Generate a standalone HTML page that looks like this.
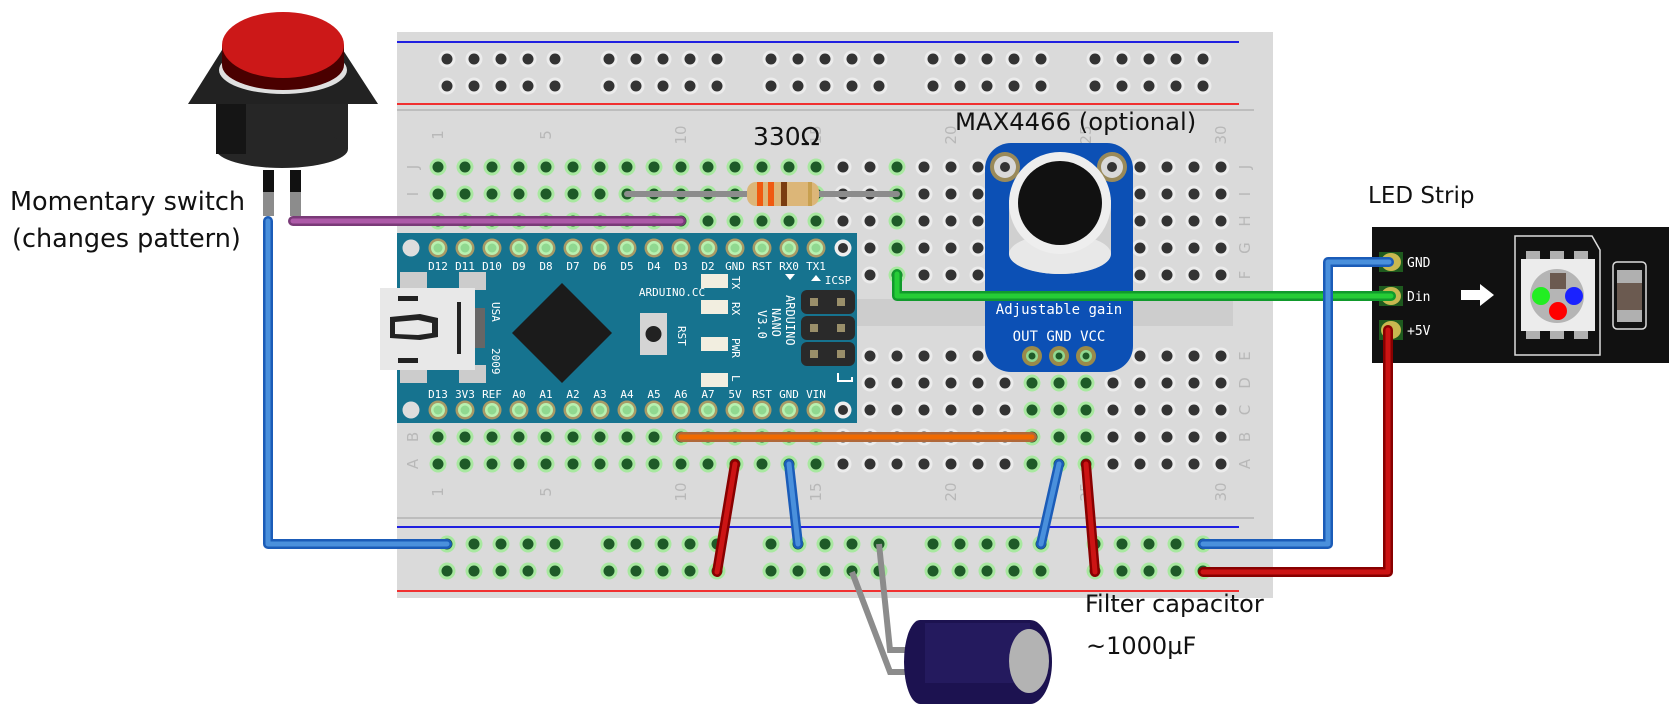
<!DOCTYPE html>
<html><head><meta charset="utf-8"><style>
html,body{margin:0;padding:0;background:#fff;width:1669px;height:713px;overflow:hidden}
svg{display:block}
.lbl{font-family:"DejaVu Sans","Liberation Sans",sans-serif;fill:#111}
.mono{font-family:"DejaVu Sans Mono","Liberation Mono",monospace;fill:#fff;font-size:11px}
.bbl{font-family:"DejaVu Sans","Liberation Sans",sans-serif;fill:#b8b8b8;font-size:15px}
</style></head><body>
<svg width="1669" height="713" viewBox="0 0 1669 713" xmlns="http://www.w3.org/2000/svg">
<defs>
<pattern id="g" x="424.5" y="153.5" width="27" height="27" patternUnits="userSpaceOnUse">
<circle cx="13.5" cy="13.5" r="8.5" fill="#a8e8a0"/><circle cx="13.5" cy="13.5" r="5.5" fill="#1e5a28"/></pattern>
<pattern id="k" x="424.5" y="153.5" width="27" height="27" patternUnits="userSpaceOnUse">
<circle cx="13.5" cy="13.5" r="8.5" fill="#ececec"/><circle cx="13.5" cy="13.5" r="5.5" fill="#333"/></pattern>
<pattern id="g2" x="424.5" y="342.5" width="27" height="27" patternUnits="userSpaceOnUse">
<circle cx="13.5" cy="13.5" r="8.5" fill="#a8e8a0"/><circle cx="13.5" cy="13.5" r="5.5" fill="#1e5a28"/></pattern>
<pattern id="k2" x="424.5" y="342.5" width="27" height="27" patternUnits="userSpaceOnUse">
<circle cx="13.5" cy="13.5" r="8.5" fill="#ececec"/><circle cx="13.5" cy="13.5" r="5.5" fill="#333"/></pattern>
<pattern id="rk" x="433.5" y="45.5" width="27" height="27" patternUnits="userSpaceOnUse">
<circle cx="13.5" cy="13.5" r="8.5" fill="#ececec"/><circle cx="13.5" cy="13.5" r="5.5" fill="#333"/></pattern>
<pattern id="rg" x="433.5" y="530.5" width="27" height="27" patternUnits="userSpaceOnUse">
<circle cx="13.5" cy="13.5" r="8.5" fill="#a8e8a0"/><circle cx="13.5" cy="13.5" r="5.5" fill="#1e5a28"/></pattern>
<pattern id="ap" x="424.5" y="234.5" width="27" height="27" patternUnits="userSpaceOnUse">
<circle cx="13.5" cy="13.5" r="9.5" fill="#a89a66"/><circle cx="13.5" cy="13.5" r="7" fill="#b8f0b0"/><circle cx="13.5" cy="13.5" r="4.5" fill="#90d890"/></pattern>
<pattern id="ap2" x="424.5" y="396.5" width="27" height="27" patternUnits="userSpaceOnUse">
<circle cx="13.5" cy="13.5" r="9.5" fill="#a89a66"/><circle cx="13.5" cy="13.5" r="7" fill="#b8f0b0"/><circle cx="13.5" cy="13.5" r="4.5" fill="#90d890"/></pattern>
</defs>

<rect x="397" y="32" width="876" height="566" fill="#dadada"/>
<line x1="397" y1="42" x2="1239" y2="42" stroke="#2020e0" stroke-width="2"/>
<line x1="397" y1="104" x2="1239" y2="104" stroke="#f03030" stroke-width="2"/>
<line x1="397" y1="110" x2="1254" y2="110" stroke="#bdbdbd" stroke-width="2"/>
<line x1="397" y1="518" x2="1254" y2="518" stroke="#bdbdbd" stroke-width="2"/>
<line x1="397" y1="527" x2="1239" y2="527" stroke="#2020e0" stroke-width="2"/>
<line x1="397" y1="591" x2="1239" y2="591" stroke="#f03030" stroke-width="2"/>
<rect x="397" y="299" width="836" height="27" fill="#cdcdcd"/>

<g fill="url(#rk)">
<rect x="433.5" y="45.5" width="135" height="54"/><rect x="595.5" y="45.5" width="135" height="54"/>
<rect x="757.5" y="45.5" width="135" height="54"/><rect x="919.5" y="45.5" width="135" height="54"/>
<rect x="1081.5" y="45.5" width="135" height="54"/></g>
<g fill="url(#rg)">
<rect x="433.5" y="530.5" width="135" height="54"/><rect x="595.5" y="530.5" width="135" height="54"/>
<rect x="757.5" y="530.5" width="135" height="54"/><rect x="919.5" y="530.5" width="135" height="54"/>
<rect x="1081.5" y="530.5" width="135" height="54"/></g>

<rect x="424.5" y="153.5" width="405" height="135" fill="url(#g)"/>
<rect x="829.5" y="153.5" width="405" height="135" fill="url(#k)"/>
<rect x="883.5" y="153.5" width="27" height="135" fill="url(#g)"/>
<rect x="424.5" y="342.5" width="405" height="135" fill="url(#g2)"/>
<rect x="829.5" y="342.5" width="405" height="135" fill="url(#k2)"/>
<rect x="1018.5" y="342.5" width="81" height="135" fill="url(#g2)"/>

<g class="bbl" text-anchor="middle">
<text x="413" y="172" transform="rotate(-90 413 167)">J</text>
<text x="413" y="199" transform="rotate(-90 413 194)">I</text>
<text x="413" y="226" transform="rotate(-90 413 221)">H</text>
<text x="1245" y="172" transform="rotate(-90 1245 167)">J</text>
<text x="1245" y="199" transform="rotate(-90 1245 194)">I</text>
<text x="1245" y="226" transform="rotate(-90 1245 221)">H</text>
<text x="1245" y="253" transform="rotate(-90 1245 248)">G</text>
<text x="1245" y="280" transform="rotate(-90 1245 275)">F</text>
<text x="1245" y="361" transform="rotate(-90 1245 356)">E</text>
<text x="1245" y="388" transform="rotate(-90 1245 383)">D</text>
<text x="1245" y="415" transform="rotate(-90 1245 410)">C</text>
<text x="1245" y="442" transform="rotate(-90 1245 437)">B</text>
<text x="1245" y="469" transform="rotate(-90 1245 464)">A</text>
<text x="413" y="442" transform="rotate(-90 413 437)">B</text>
<text x="413" y="469" transform="rotate(-90 413 464)">A</text>
<text x="438" y="140" transform="rotate(-90 438 135)">1</text>
<text x="546" y="140" transform="rotate(-90 546 135)">5</text>
<text x="681" y="140" transform="rotate(-90 681 135)">10</text>
<text x="816" y="140" transform="rotate(-90 816 135)">15</text>
<text x="951" y="140" transform="rotate(-90 951 135)">20</text>
<text x="1086" y="140" transform="rotate(-90 1086 135)">25</text>
<text x="1221" y="140" transform="rotate(-90 1221 135)">30</text>
<text x="438" y="497" transform="rotate(-90 438 492)">1</text>
<text x="546" y="497" transform="rotate(-90 546 492)">5</text>
<text x="681" y="497" transform="rotate(-90 681 492)">10</text>
<text x="816" y="497" transform="rotate(-90 816 492)">15</text>
<text x="951" y="497" transform="rotate(-90 951 492)">20</text>
<text x="1086" y="497" transform="rotate(-90 1086 492)">25</text>
<text x="1221" y="497" transform="rotate(-90 1221 492)">30</text>
</g>

<rect x="397" y="233" width="460" height="190" fill="#16738f"/>
<rect x="424.5" y="234.5" width="405" height="27" fill="url(#ap)"/>
<rect x="424.5" y="396.5" width="405" height="27" fill="url(#ap2)"/>
<circle cx="843" cy="248" r="8.5" fill="#eee"/><circle cx="843" cy="248" r="5" fill="#333"/>
<circle cx="843" cy="410" r="8.5" fill="#eee"/><circle cx="843" cy="410" r="5" fill="#333"/>
<circle cx="411" cy="248" r="8.5" fill="#ddd"/><circle cx="411" cy="410" r="8.5" fill="#ddd"/>
<g class="mono" text-anchor="middle">
<text x="438" y="270">D12</text><text x="465" y="270">D11</text><text x="492" y="270">D10</text><text x="519" y="270">D9</text>
<text x="546" y="270">D8</text><text x="573" y="270">D7</text><text x="600" y="270">D6</text><text x="627" y="270">D5</text>
<text x="654" y="270">D4</text><text x="681" y="270">D3</text><text x="708" y="270">D2</text><text x="735" y="270">GND</text>
<text x="762" y="270">RST</text><text x="789" y="270">RX0</text><text x="816" y="270">TX1</text>
<text x="438" y="398">D13</text><text x="465" y="398">3V3</text><text x="492" y="398">REF</text><text x="519" y="398">A0</text>
<text x="546" y="398">A1</text><text x="573" y="398">A2</text><text x="600" y="398">A3</text><text x="627" y="398">A4</text>
<text x="654" y="398">A5</text><text x="681" y="398">A6</text><text x="708" y="398">A7</text><text x="735" y="398">5V</text>
<text x="762" y="398">RST</text><text x="789" y="398">GND</text><text x="816" y="398">VIN</text>
<text x="672" y="296">ARDUINO.CC</text>
<text x="838" y="284">ICSP</text>
</g>
<rect x="400" y="272" width="27" height="18" fill="#ccc"/><rect x="459" y="272" width="27" height="18" fill="#ccc"/>
<rect x="400" y="365" width="27" height="18" fill="#ccc"/><rect x="459" y="365" width="27" height="18" fill="#ccc"/>
<rect x="380" y="288" width="95" height="82" fill="#e8e8e8"/>
<rect x="398" y="296" width="20" height="5" fill="#222"/><rect x="398" y="358" width="20" height="5" fill="#222"/>
<path d="M390 317 L420 314 L438 318 L438 337 L420 340 L390 338 Z" fill="#222"/>
<path d="M395 322 L418 320 L432 323 L432 333 L418 335 L395 334 Z" fill="#e8e8e8"/>
<rect x="457" y="302" width="4" height="52" fill="#222"/>
<rect x="475" y="308" width="10" height="40" fill="#666"/>
<text class="mono" x="492" y="302" transform="rotate(90 492 302)" font-size="13">USA</text>
<text class="mono" x="492" y="348" transform="rotate(90 492 348)" font-size="13">2009</text>
<polygon points="562,283 612,333 562,383 512,333" fill="#1b1b1b"/>
<rect x="640" y="313" width="27" height="42" fill="#d4d4d4"/><circle cx="653.5" cy="334" r="8" fill="#222"/>
<text class="mono" x="678" y="326" transform="rotate(90 678 326)">RST</text>
<g fill="#f2eee0"><rect x="701" y="274" width="27" height="14"/><rect x="701" y="300" width="27" height="14"/>
<rect x="701" y="337" width="27" height="14"/><rect x="701" y="373" width="27" height="14"/></g>
<g class="mono"><text x="732" y="276" transform="rotate(90 732 276)">TX</text><text x="732" y="302" transform="rotate(90 732 302)">RX</text>
<text x="732" y="338" transform="rotate(90 732 338)">PWR</text><text x="732" y="375" transform="rotate(90 732 375)">L</text>
<text x="786" y="295" transform="rotate(90 786 295)" font-size="12">ARDUINO</text>
<text x="772" y="308" transform="rotate(90 772 308)" font-size="12">NANO</text>
<text x="758" y="310" transform="rotate(90 758 310)" font-size="12">V3.0</text></g>
<polygon points="785,274 795,274 790,280" fill="#fff"/><polygon points="811,281 821,281 816,275" fill="#fff"/>
<g fill="#2a2a2a"><rect x="801" y="290" width="54" height="24" rx="6"/><rect x="801" y="316" width="54" height="24" rx="6"/><rect x="801" y="342" width="54" height="24" rx="6"/></g>
<g fill="#9a8f6a"><rect x="810" y="298" width="8" height="8"/><rect x="837" y="298" width="8" height="8"/><rect x="810" y="324" width="8" height="8"/><rect x="837" y="324" width="8" height="8"/><rect x="810" y="350" width="8" height="8"/><rect x="837" y="350" width="8" height="8"/></g>
<path d="M838 373 V381 H852 V377" stroke="#fff" stroke-width="2" fill="none"/>

<line x1="627" y1="194" x2="897" y2="194" stroke="#8c8c8c" stroke-width="6" stroke-linecap="round"/>
<rect x="747" y="182" width="72" height="24" rx="9" fill="#dcb678"/>
<rect x="757" y="182" width="6" height="24" fill="#f05a10"/><rect x="768" y="182" width="6" height="24" fill="#f05a10"/>
<rect x="781" y="182" width="6" height="24" fill="#7a3c10"/><rect x="808" y="182" width="4" height="24" fill="#c8a050"/>
<text class="lbl" x="753" y="145" font-size="25">330Ω</text>

<rect x="985" y="143" width="148" height="229" rx="26" fill="#0c50b5"/>
<circle cx="1005" cy="167" r="15" fill="#9a8a5a"/><circle cx="1005" cy="167" r="11" fill="#d9d9d9"/><circle cx="1005" cy="167" r="5" fill="#333"/>
<circle cx="1112" cy="167" r="15" fill="#9a8a5a"/><circle cx="1112" cy="167" r="11" fill="#d9d9d9"/><circle cx="1112" cy="167" r="5" fill="#333"/>
<path d="M1009 200 V252 A51 22 0 0 0 1111 252 V200 Z" fill="#d0d0d0"/>
<ellipse cx="1060" cy="254" rx="51" ry="20" fill="#e8e8e8"/>
<circle cx="1060" cy="203" r="51" fill="#eee"/>
<circle cx="1060" cy="203" r="42" fill="#111"/>
<text x="1059" y="314" text-anchor="middle" font-family="DejaVu Sans Mono,monospace" font-size="14" fill="#fff">Adjustable gain</text>
<text x="1059" y="341" text-anchor="middle" font-family="DejaVu Sans Mono,monospace" font-size="14" fill="#fff">OUT GND VCC</text>
<g><circle cx="1032" cy="356" r="10" fill="#9a8a4a"/><circle cx="1032" cy="356" r="6" fill="#90d890"/><circle cx="1032" cy="356" r="3.5" fill="#1e5a28"/>
<circle cx="1059" cy="356" r="10" fill="#9a8a4a"/><circle cx="1059" cy="356" r="6" fill="#90d890"/><circle cx="1059" cy="356" r="3.5" fill="#1e5a28"/>
<circle cx="1086" cy="356" r="10" fill="#9a8a4a"/><circle cx="1086" cy="356" r="6" fill="#90d890"/><circle cx="1086" cy="356" r="3.5" fill="#1e5a28"/></g>
<text class="lbl" x="955" y="130" font-size="24.3">MAX4466 (optional)</text>

<rect x="1372" y="227" width="297" height="136" fill="#111"/>
<g fill="#1e5a1e"><rect x="1379" y="252" width="24" height="20"/><rect x="1379" y="286" width="24" height="20"/><rect x="1379" y="320" width="24" height="20"/></g>
<g fill="#c8b850"><ellipse cx="1391" cy="262" rx="10" ry="9"/><ellipse cx="1391" cy="296" rx="10" ry="9"/><ellipse cx="1391" cy="330" rx="10" ry="9"/></g>
<g font-family="DejaVu Sans Mono,monospace" font-size="13" fill="#fff"><text x="1407" y="267">GND</text><text x="1407" y="301">Din</text><text x="1407" y="335">+5V</text></g>
<polygon points="1461,290 1480,290 1480,284 1494,295 1480,306 1480,300 1461,300" fill="#fff"/>
<path d="M1515 236 H1592 L1600 250 V355 H1515 Z" fill="none" stroke="#ddd" stroke-width="1.5"/>
<g fill="#b0b0b0"><rect x="1526" y="251" width="14" height="9"/><rect x="1550" y="251" width="14" height="9"/><rect x="1574" y="251" width="14" height="9"/>
<rect x="1526" y="330" width="14" height="9"/><rect x="1550" y="330" width="14" height="9"/><rect x="1574" y="330" width="14" height="9"/></g>
<rect x="1521" y="259" width="74" height="72" fill="#ececec"/>
<circle cx="1557" cy="296" r="27" fill="#b5b5b5"/>
<rect x="1550" y="273" width="16" height="16" fill="#6b5a50"/>
<circle cx="1541" cy="296" r="9" fill="#22ee22"/><circle cx="1574" cy="296" r="9" fill="#1a22ff"/><circle cx="1558" cy="311" r="9" fill="#ff0000"/>
<rect x="1613" y="262" width="33" height="67" rx="4" fill="none" stroke="#ddd" stroke-width="1.5"/>
<rect x="1617" y="270" width="25" height="52" fill="#b0b0b0"/><rect x="1617" y="283" width="25" height="27" fill="#6b5a50"/>
<text class="lbl" x="1368" y="203" font-size="23">LED Strip</text>

<polygon points="222,50 343,50 378,104 188,104" fill="#222"/>
<rect x="216" y="104" width="132" height="45" fill="#262626"/>
<ellipse cx="282" cy="149" rx="66" ry="19" fill="#262626"/>
<rect x="216" y="104" width="30" height="50" fill="#151515"/>
<ellipse cx="283" cy="70" rx="64" ry="24" fill="#e0e0e0"/>
<path d="M222 45 V65 A61 25 0 0 0 344 65 V45 Z" fill="#4a0000"/>
<ellipse cx="283" cy="45" rx="61" ry="33" fill="#cc1818"/>
<rect x="263" y="170" width="11" height="22" fill="#111"/><rect x="290" y="170" width="11" height="22" fill="#111"/>
<rect x="263" y="192" width="11" height="24" fill="#8c8c8c"/><rect x="290" y="192" width="11" height="24" fill="#8c8c8c"/>
<text class="lbl" x="10" y="210" font-size="25.5">Momentary switch</text>
<text class="lbl" x="12" y="247" font-size="25.5">(changes pattern)</text>

<polyline points="852,572 890,672 910,672" fill="none" stroke="#8c8c8c" stroke-width="6"/>
<polyline points="879,544 890,650 910,650" fill="none" stroke="#8c8c8c" stroke-width="6"/>
<path d="M920 620 H1030 A22 42 0 0 1 1030 704 H920 A16 42 0 0 1 920 620 Z" fill="#1c1250"/>
<rect x="925" y="623" width="105" height="60" fill="#241a5e"/>
<ellipse cx="1029" cy="661" rx="20" ry="32" fill="#b3b3b3"/>
<text class="lbl" x="1085" y="612" font-size="24">Filter capacitor</text>
<text class="lbl" x="1086" y="654" font-size="24">~1000µF</text>

<g fill="none" stroke-linecap="round" stroke-linejoin="round">
<polyline points="268,221 268,544 447,544" stroke="#1b5cb8" stroke-width="10"/>
<polyline points="268,221 268,544 447,544" stroke="#4a90dc" stroke-width="5"/>
<line x1="293" y1="221" x2="681" y2="221" stroke="#7a3a78" stroke-width="10"/>
<line x1="293" y1="221" x2="681" y2="221" stroke="#ad5aa8" stroke-width="5"/>
<line x1="681" y1="437" x2="1032" y2="437" stroke="#b0683a" stroke-width="10"/>
<line x1="681" y1="437" x2="1032" y2="437" stroke="#f06a00" stroke-width="5"/>
<polyline points="897,274 897,296 1391,296" stroke="#119a2c" stroke-width="10"/>
<polyline points="897,274 897,296 1391,296" stroke="#26cc36" stroke-width="5"/>
<line x1="735" y1="464" x2="717" y2="572" stroke="#880000" stroke-width="10"/>
<line x1="735" y1="464" x2="717" y2="572" stroke="#cc1414" stroke-width="5"/>
<line x1="1086" y1="464" x2="1095" y2="572" stroke="#880000" stroke-width="10"/>
<line x1="1086" y1="464" x2="1095" y2="572" stroke="#cc1414" stroke-width="5"/>
<line x1="789" y1="464" x2="798" y2="544" stroke="#1b5cb8" stroke-width="10"/>
<line x1="789" y1="464" x2="798" y2="544" stroke="#4a90dc" stroke-width="5"/>
<line x1="1059" y1="464" x2="1041" y2="544" stroke="#1b5cb8" stroke-width="10"/>
<line x1="1059" y1="464" x2="1041" y2="544" stroke="#4a90dc" stroke-width="5"/>
<polyline points="1203,544 1328,544 1328,262 1389,262" stroke="#1b5cb8" stroke-width="10"/>
<polyline points="1203,544 1328,544 1328,262 1389,262" stroke="#4a90dc" stroke-width="5"/>
<polyline points="1203,572 1388,572 1388,330" stroke="#880000" stroke-width="10"/>
<polyline points="1203,572 1388,572 1388,330" stroke="#cc1414" stroke-width="5"/>
</g>
</svg>
</body></html>
